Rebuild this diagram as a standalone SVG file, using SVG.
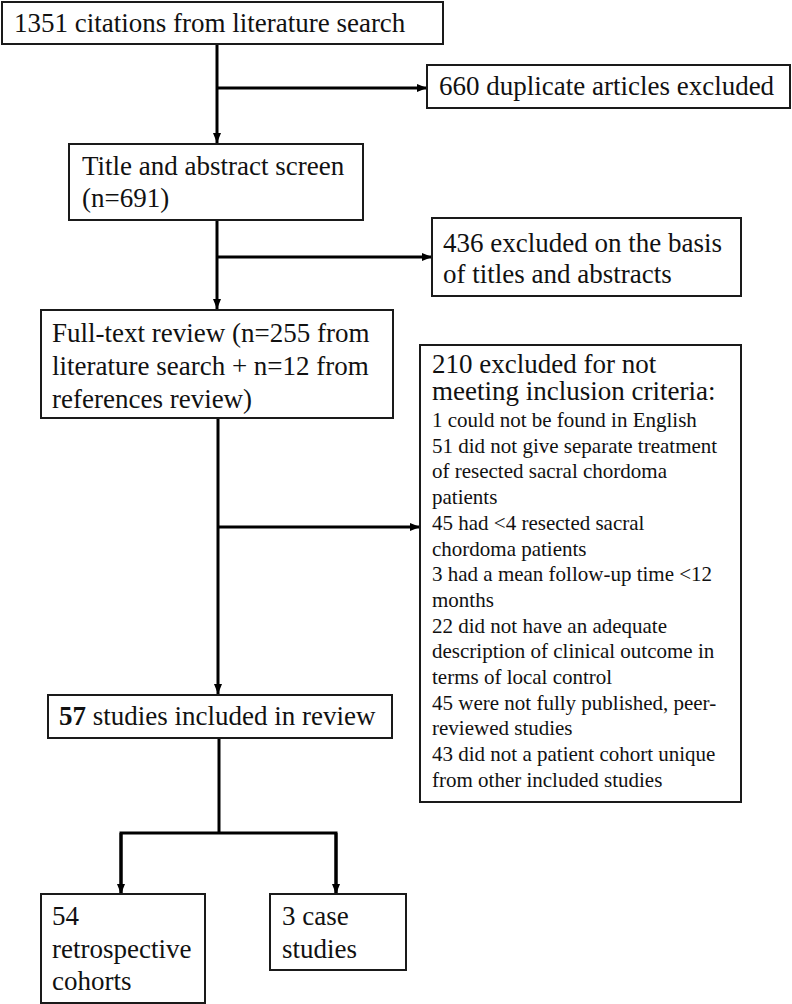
<svg xmlns="http://www.w3.org/2000/svg" width="792" height="1004" viewBox="0 0 792 1004">
<style>
.box{fill:#fff;stroke:#1a1a1a;stroke-width:2}
.t{font-size:27px;fill:#111}
.s{font-size:21px;fill:#111}
.c{fill:none;stroke:#000;stroke-width:3}
</style>
<defs>
<marker id="ah" viewBox="0 0 10 8" refX="10" refY="4" markerWidth="10" markerHeight="8" markerUnits="userSpaceOnUse" orient="auto">
<path d="M0,0 L10,4 L0,8 Z" fill="#000"/>
</marker>
</defs>
<rect width="792" height="1004" fill="#fff"/>
<g id="connectors">
<line class="c" x1="217" y1="44" x2="217" y2="143" marker-end="url(#ah)"/>
<line class="c" x1="217" y1="88" x2="427" y2="88" marker-end="url(#ah)"/>
<line class="c" x1="217" y1="220" x2="217" y2="309" marker-end="url(#ah)"/>
<line class="c" x1="217" y1="257" x2="432" y2="257" marker-end="url(#ah)"/>
<line class="c" x1="218" y1="418" x2="218" y2="694" marker-end="url(#ah)"/>
<line class="c" x1="218" y1="527" x2="420" y2="527" marker-end="url(#ah)"/>
<line class="c" x1="219" y1="738" x2="219" y2="833"/>
<polyline class="c" points="121,894 121,833 336,833 336,894"/>
<line class="c" x1="121" y1="833" x2="121" y2="894" marker-end="url(#ah)"/>
<line class="c" x1="336" y1="833" x2="336" y2="894" marker-end="url(#ah)"/>
</g>
<g font-family="Liberation Serif, Times New Roman, serif">
<g id="n1"><rect class="box" x="2" y="2" width="441" height="42"/><text class="t" x="14" y="32">1351 citations from literature search</text></g>
<g id="n2"><rect class="box" x="427" y="65" width="363" height="43"/><text class="t" x="439" y="95">660 duplicate articles excluded</text></g>
<g id="n3"><rect class="box" x="69" y="144" width="294" height="76"/><text class="t" x="82" y="175">Title and abstract screen</text><text class="t" x="82" y="207">(n=691)</text></g>
<g id="n4"><rect class="box" x="432" y="218" width="309" height="78"/><text class="t" x="443" y="252">436 excluded on the basis</text><text class="t" x="443" y="283">of titles and abstracts</text></g>
<g id="n5"><rect class="box" x="41" y="310" width="352" height="108"/><text class="t" x="52" y="342">Full-text review (n=255 from</text><text class="t" x="52" y="375">literature search + n=12 from</text><text class="t" x="52" y="408">references review)</text></g>
<g id="n6"><rect class="box" x="420" y="345" width="321" height="457"/>
<text class="t" x="432" y="373">210 excluded for not</text>
<text class="t" x="432" y="400">meeting inclusion criteria:</text>
<text class="s" x="432" y="427">1 could not be found in English</text>
<text class="s" x="432" y="452.7">51 did not give separate treatment</text>
<text class="s" x="432" y="478.4">of resected sacral chordoma</text>
<text class="s" x="432" y="504.1">patients</text>
<text class="s" x="432" y="529.8">45 had &lt;4 resected sacral</text>
<text class="s" x="432" y="555.5">chordoma patients</text>
<text class="s" x="432" y="581.2">3 had a mean follow-up time &lt;12</text>
<text class="s" x="432" y="606.9">months</text>
<text class="s" x="432" y="632.6">22 did not have an adequate</text>
<text class="s" x="432" y="658.3">description of clinical outcome in</text>
<text class="s" x="432" y="684">terms of local control</text>
<text class="s" x="432" y="709.7">45 were not fully published, peer-</text>
<text class="s" x="432" y="735.4">reviewed studies</text>
<text class="s" x="432" y="761.1">43 did not a patient cohort unique</text>
<text class="s" x="432" y="786.8">from other included studies</text>
</g>
<g id="n7"><rect class="box" x="48" y="695" width="344" height="43"/><text class="t" x="59" y="725"><tspan font-weight="bold">57</tspan> studies included in review</text></g>
<g id="n8"><rect class="box" x="41" y="894" width="164" height="109"/><text class="t" x="52" y="925">54</text><text class="t" x="52" y="958">retrospective</text><text class="t" x="52" y="990">cohorts</text></g>
<g id="n9"><rect class="box" x="270" y="894" width="136" height="76"/><text class="t" x="282" y="925">3 case</text><text class="t" x="282" y="958">studies</text></g>
</g>
</svg>
